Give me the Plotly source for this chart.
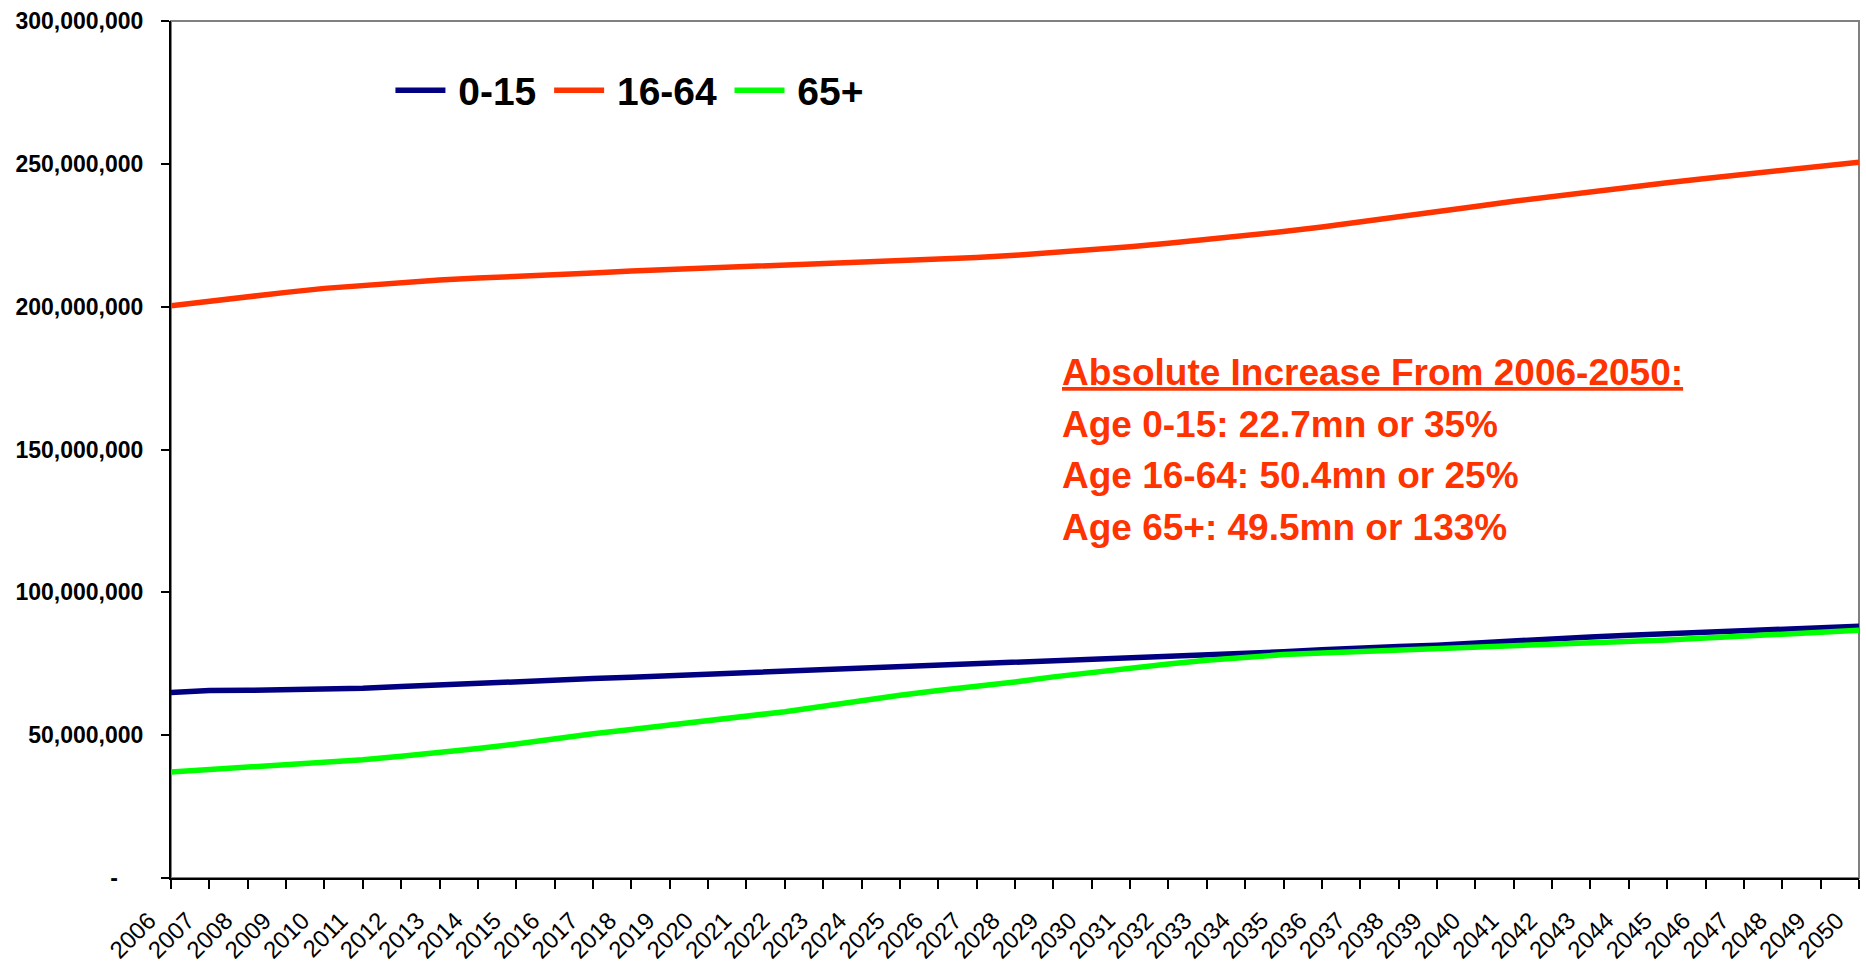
import plotly.graph_objects as go

years = [str(y) for y in range(2006, 2051)]

age_0_15 = [64.9, 65.6, 65.7, 65.9, 66.2, 66.4, 67.0, 67.6, 68.3, 69.0,
            69.3, 69.8, 70.3, 70.8, 71.3, 71.8, 72.3, 72.8, 73.4, 73.9,
            74.4, 75.0, 75.6, 76.1, 76.6, 77.1, 77.6, 78.1, 78.6, 79.2,
            79.9, 80.6, 81.0, 81.5, 82.3, 83.0, 83.7, 84.4, 85.0, 85.5,
            85.9, 86.5, 87.1, 87.6, 88.1]

age_16_64 = [200.3, 202.0, 203.6, 205.0, 206.4, 207.5, 208.5, 209.3, 210.0, 210.5,
             211.1, 211.8, 212.5, 213.0, 213.4, 213.8, 214.3, 214.8, 215.3, 215.9,
             216.5, 217.2, 218.0, 218.9, 219.9, 221.0, 222.2, 223.5, 224.9, 226.3,
             227.9, 229.6, 231.4, 233.3, 235.1, 236.9, 238.6, 240.3, 241.9, 243.4,
             244.9, 246.4, 247.8, 249.3, 250.6]

age_65_plus = [37.1, 37.9, 38.6, 39.5, 40.5, 41.4, 42.6, 43.8, 45.3, 46.9,
               48.9, 50.5, 52.0, 53.5, 55.0, 56.6, 58.2, 60.1, 62.1, 64.0,
               65.6, 67.0, 68.6, 70.4, 72.0, 73.4, 74.9, 76.2, 77.4, 78.2,
               78.8, 79.3, 79.7, 80.1, 80.5, 81.0, 81.4, 82.0, 82.6, 83.3,
               84.0, 84.6, 85.2, 85.9, 86.7]

series_names = ["0-15", "16-64", "65+"]
series_values = [age_0_15, age_16_64, age_65_plus]
series_colors = ["#000080", "#FF3300", "#00FF00"]

y_tick_values = [0, 50e6, 100e6, 150e6, 200e6, 250e6, 300e6]
y_tick_labels = ["-\u00a0\u00a0\u00a0\u00a0", "50,000,000", "100,000,000", "150,000,000",
                 "200,000,000", "250,000,000", "300,000,000"]

note_lines = [
    "<u>Absolute Increase From 2006-2050:</u>",
    "Age 0-15: 22.7mn or 35%",
    "Age 16-64: 50.4mn or 25%",
    "Age 65+: 49.5mn or 133%",
]
note_y = [0.5898, 0.5287, 0.4691, 0.4093]

FONT = "Liberation Sans, Arial, sans-serif"
THIN = "\u2009"

fig = go.Figure()
for i, (name, vals, col) in enumerate(zip(series_names, series_values, series_colors)):
    label = THIN + name + (THIN if i < len(series_names) - 1 else "")
    fig.add_trace(go.Scatter(
        x=years, y=[v * 1e6 for v in vals], name=label, mode="lines",
        line=dict(color=col, width=5.5),
    ))

fig.update_layout(
    width=1866, height=975,
    margin=dict(l=171, r=7, t=21, b=97, pad=0),
    paper_bgcolor="white", plot_bgcolor="white",
    font=dict(family=FONT, color="black"),
    showlegend=True,
    legend=dict(
        orientation="h", x=0.13, y=0.919, xanchor="left", yanchor="middle",
        font=dict(family=FONT, size=39, weight="bold", color="black"),
        bgcolor="rgba(0,0,0,0)", itemwidth=50, tracegroupgap=0,
    ),
    xaxis=dict(
        type="category", range=[0, 44], tickmode="array", tickvals=years, ticktext=years,
        tickangle=-45, ticks="outside", ticklen=9, tickwidth=1.5, tickcolor="black",
        showline=True, linecolor="black", linewidth=2, showgrid=False, zeroline=False,
        tickfont=dict(family=FONT, size=24, color="black"),
        ticklabelstandoff=8, ticklabelshift=-22,
    ),
    yaxis=dict(
        range=[0, 300e6], tickmode="array", tickvals=y_tick_values, ticktext=y_tick_labels,
        ticks="outside", ticklen=8, tickwidth=1.5, tickcolor="black",
        showline=True, linecolor="black", linewidth=2, showgrid=False, zeroline=False,
        tickfont=dict(family=FONT, size=23, weight="bold", color="black"),
        ticklabelstandoff=13,
    ),
    shapes=[dict(type="rect", xref="paper", yref="paper", x0=0, y0=0, x1=1, y1=1,
                 line=dict(color="#808080", width=2), layer="below")],
)

for txt, yy in zip(note_lines, note_y):
    fig.add_annotation(
        text=txt, xref="paper", yref="paper", x=0.5266, y=yy,
        xanchor="left", yanchor="middle", showarrow=False, align="left",
        font=dict(family=FONT, size=37, weight="bold", color="#FF3300"),
    )

fig.write_html("out.html", config={"displayModeBar": False},
               post_script="document.body.style.margin='0';document.body.style.overflow='hidden';")
